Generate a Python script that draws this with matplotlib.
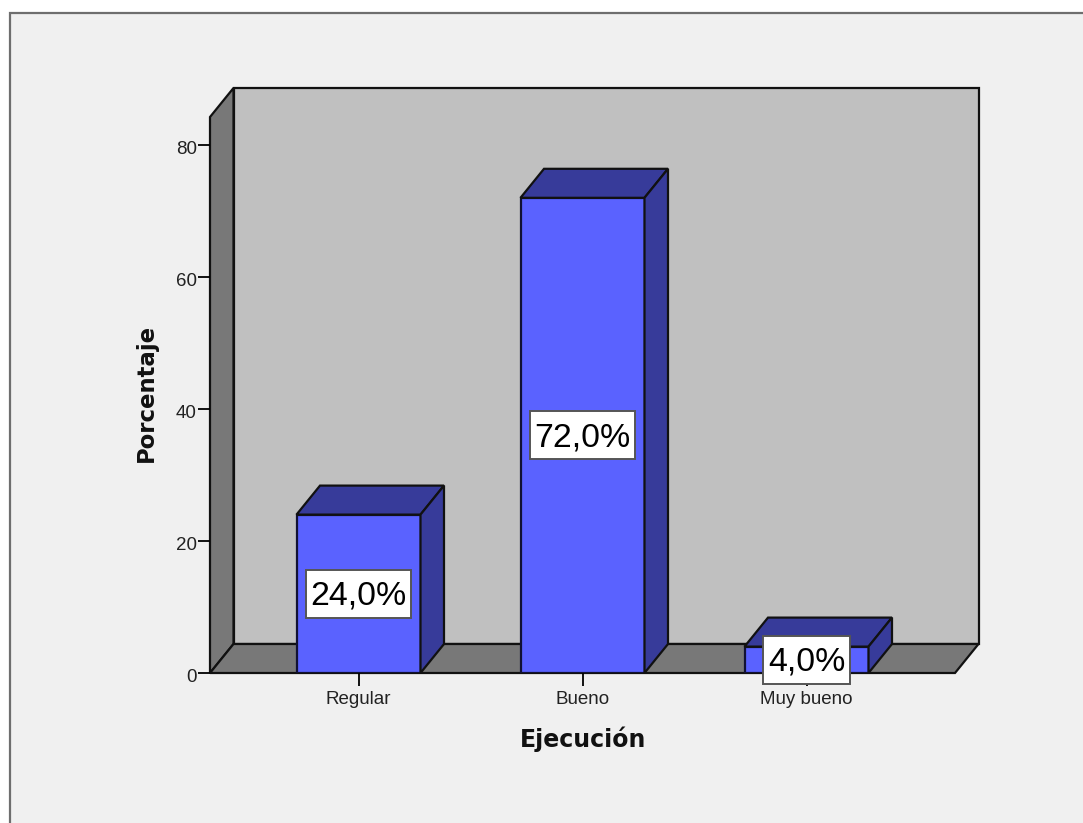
import numpy as np
import matplotlib
matplotlib.use('Agg')
import matplotlib.pyplot as plt
from matplotlib.patches import Polygon, Rectangle
from matplotlib.transforms import ScaledTranslation

categories = ['Regular', 'Bueno', 'Muy bueno']
percentages = [24.0, 72.0, 4.0]
valueLabels = ['24,0%', '72,0%', '4,0%']
yTicks = [0, 20, 40, 60, 80]

plt.rcParams['font.family'] = ['Liberation Sans', 'DejaVu Sans']

figW, figH = 1083, 823
fig = plt.figure(figsize=(figW / 100, figH / 100), dpi=100, facecolor='white')

# window panel behind the chart, only top and left edges show
fig.patches.append(Rectangle((10 / figW, -0.1), 1, 1.1 - 13 / figH, transform=fig.transFigure,
                             facecolor='#f0f0f0', edgecolor='#6e6e6e', linewidth=1.6, zorder=-1))

# axes box is the front face of the 3d chart
left, right, bottom, top = 210, 955, 673, 117
ax = fig.add_axes([left / figW, 1 - bottom / figH, (right - left) / figW, (bottom - top) / figH])
ax.patch.set_visible(False)
for spine in ax.spines.values():
    spine.set_visible(False)

pxPerY = 6.6
pxPerX = 224.0
ax.set_ylim(0, (bottom - top) / pxPerY)
ax.set_xlim((left - 358.5) / pxPerX, (right - 358.5) / pxPerX)

depthX = 23.5 / pxPerX
depthY = 29 / pxPerY
x0, x1 = ax.get_xlim()
y0, y1 = ax.get_ylim()


def face(points, color, zorder=1):
    ax.add_patch(Polygon(points, closed=True, facecolor=color, edgecolor='#111111',
                         linewidth=1.6, joinstyle='miter', clip_on=False, zorder=zorder))


# back wall, left wall, floor
face([(x0 + depthX, y0 + depthY), (x1 + depthX, y0 + depthY),
      (x1 + depthX, y1 + depthY), (x0 + depthX, y1 + depthY)], '#c0c0c0')
face([(x0, y0), (x0 + depthX, y0 + depthY), (x0 + depthX, y1 + depthY), (x0, y1)], '#787878')
face([(x0, y0), (x1, y0), (x1 + depthX, y0 + depthY), (x0 + depthX, y0 + depthY)], '#787878')

barWidth = 124 / pxPerX
positions = np.arange(len(categories))
ax.bar(positions, percentages, width=barWidth, color='#5a62ff', edgecolor='#111133',
       linewidth=1.6, zorder=3)

boxHeight = 48 / pxPerY
boxPad = 4.5 / pxPerX
textDrop = 2.5 / pxPerY

for pos, val, label in zip(positions, percentages, valueLabels):
    l, r = pos - barWidth / 2, pos + barWidth / 2
    # top and side faces of the bar
    face([(l, val), (r, val), (r + depthX, val + depthY), (l + depthX, val + depthY)], '#373b9a', 3)
    face([(r, 0), (r + depthX, depthY), (r + depthX, val + depthY), (r, val)], '#373b9a', 3)

    # value label in a white box, the box is sized from the rendered text
    midY = max(val / 2, 1.9)
    txt = ax.text(pos, midY - textDrop, label, ha='center', va='center', fontsize=24.4,
                  color='black', zorder=6)
    textBox = txt.get_window_extent(fig.canvas.get_renderer())
    boxWidth = textBox.width / pxPerX + 2 * boxPad
    ax.add_patch(Rectangle((pos - boxWidth / 2, midY - boxHeight / 2), boxWidth, boxHeight,
                           facecolor='white', edgecolor='#555555', linewidth=1.4,
                           clip_on=False, zorder=5))

ax.set_xticks(positions)
ax.set_xticklabels(categories, fontsize=13.5, color='#222222')
ax.set_yticks(yTicks)
ax.tick_params(axis='y', labelsize=13.5, length=8.5, width=1.3, pad=1, labelcolor='#222222')
ax.tick_params(axis='x', length=9, width=1.3, pad=4)

# numbers sit a little under their tick marks
for tickLabel in ax.get_yticklabels():
    tickLabel.set_transform(tickLabel.get_transform() + ScaledTranslation(0, -3 / 100, fig.dpi_scale_trans))

fig.text(583 / figW, 1 - 739 / figH, 'Ejecución', ha='center', va='center',
         fontsize=17, fontweight='bold', family='DejaVu Sans', color='#111111')
fig.text(146 / figW, 1 - 393 / figH, 'Porcentaje', ha='center', va='center', rotation=90,
         fontsize=16.4, fontweight='bold', family='DejaVu Sans', color='#111111')

plt.savefig('out.png', dpi=100, facecolor=fig.get_facecolor())
plt.close()
